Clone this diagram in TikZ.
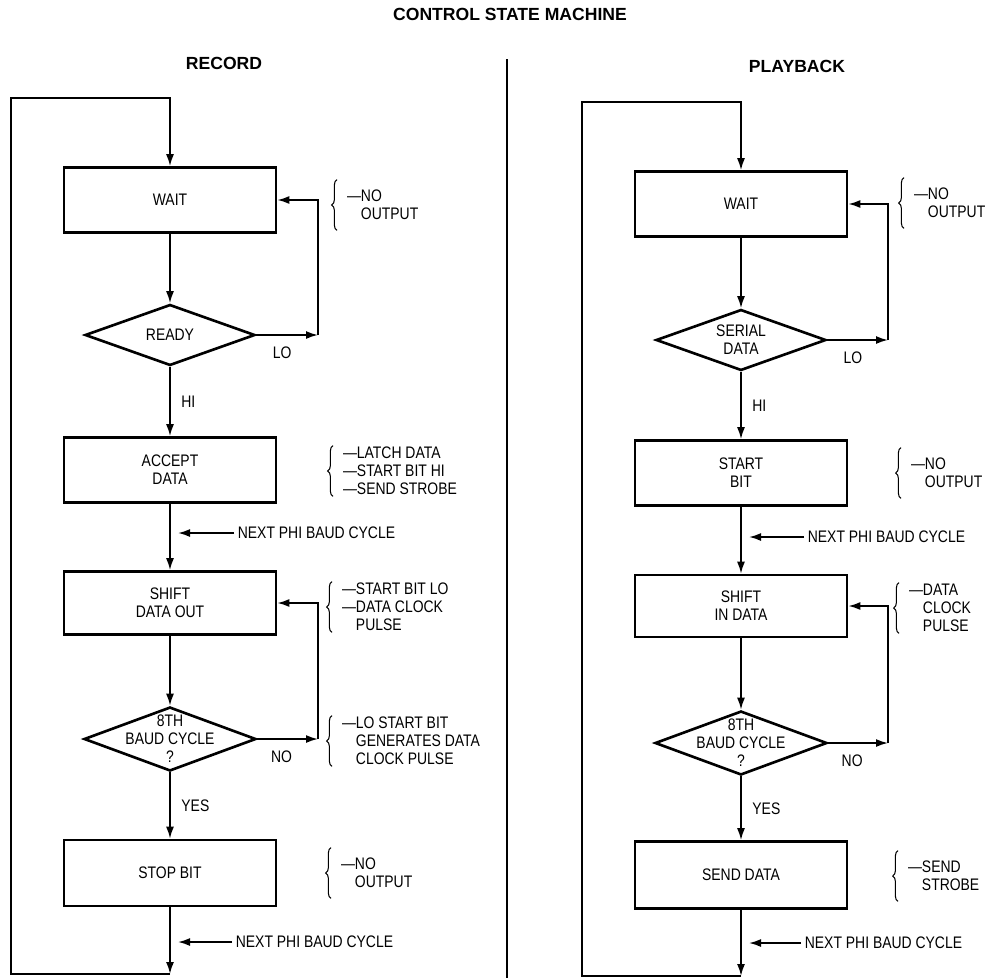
\documentclass[tikz,border=0pt]{standalone}
\usepackage{fontspec}
\setmainfont{Liberation Sans}[FakeStretch=0.835]
\newfontfamily\headfont{Liberation Sans}
\usetikzlibrary{arrows.meta,shapes.geometric,decorations.pathreplacing}

\begin{document}
\begin{tikzpicture}[
  x=0.2mm,y=-0.2mm,
  font=\fontsize{9.5}{10.2}\selectfont,
  head/.style={font=\headfont\bfseries\fontsize{10}{12}\selectfont, inner sep=1pt},
  state/.style={draw, line width=1.5pt, minimum width=4.24cm, minimum height=1.3cm, align=center, inner sep=2pt},
  decision/.style={draw, diamond, line width=1.5pt, minimum width=3.4cm, minimum height=1.22cm, align=center, inner xsep=-0.5cm, inner ysep=-0.3cm},
  flow/.style={line width=1pt, -{Latex[length=2.4mm,width=1.6mm]}},
  wire/.style={line width=1.1pt},
  lbl/.style={inner sep=2pt},
  note/.style={anchor=west, align=left, minimum height=1cm, inner xsep=5.5pt, inner ysep=0pt},
  curly/.style={decorate, decoration={brace, amplitude=3pt}, line width=0.6pt}
]
\useasboundingbox (0,0) rectangle (987,978);

% headings and divider
\node[head] (title) at (510,14) {CONTROL STATE MACHINE};
\node[head] (recHead) at (224,63) {RECORD};
\node[head] (playHead) at (797,66) {PLAYBACK};
\draw[wire] (507,59) -- (507,978);

% ----------------------------- Record -----------------------------
\node[state] (waitL) at (170,200) {WAIT};
\node[decision] (readyL) at (170,335) {READY};
\node[state] (acceptL) at (170,470) {ACCEPT\\DATA};
\node[state, minimum height=1.26cm] (shiftL) at (170,603) {SHIFT\\DATA OUT};
\node[decision, minimum width=3.44cm, minimum height=1.28cm] (baudL) at (170,739) {8TH\\BAUD CYCLE\\?};
\node[state, minimum height=1.32cm] (stopL) at (170,873) {STOP BIT};

\coordinate (loL) at (318,335);
\coordinate (noL) at (318,739);
\coordinate (tipL1) at (178,533);
\coordinate (tipL2) at (178,942);
\coordinate (botL) at (170,974);
\coordinate (topL) at (11,98);

\draw[flow] (waitL) -- (readyL);
\draw[flow] (readyL) -- node[lbl, right=4pt] {HI} (acceptL);
\draw[flow] (readyL) -- node[lbl, below=4pt, pos=0.42] {LO} (loL);
\draw[flow] (loL) |- (waitL);
\draw[flow] (acceptL) -- (shiftL);
\draw[flow] (shiftL) -- (baudL);
\draw[flow] (baudL) -- node[lbl, below=4pt, pos=0.4] {NO} (noL);
\draw[flow] (noL) |- (shiftL);
\draw[flow] (baudL) -- node[lbl, right=4pt] {YES} (stopL);
\draw[flow] (stopL) -- (botL);
\draw[flow] (botL) -| (topL) -| (waitL);

\node[lbl, anchor=west] (nextL1) at (234,533) {NEXT PHI BAUD CYCLE};
\node[lbl, anchor=west] (nextL2) at (232,942) {NEXT PHI BAUD CYCLE};
\draw[flow] (nextL1) -- (tipL1);
\draw[flow] (nextL2) -- (tipL2);

\node[note] (noteL1) at (337,205) {—NO\\\phantom{—}OUTPUT};
\node[note] (noteL2) at (333,471) {—LATCH DATA\\—START BIT HI\\—SEND STROBE};
\node[note] (noteL3) at (332,607) {—START BIT LO\\—DATA CLOCK\\\phantom{—}PULSE};
\node[note] (noteL4) at (332,741) {—LO START BIT\\\phantom{—}GENERATES DATA\\\phantom{—}CLOCK PULSE};
\node[note] (noteL5) at (331,873) {—NO\\\phantom{—}OUTPUT};

% ----------------------------- Playback -----------------------------
\node[state] (waitR) at (741,204) {WAIT};
\node[decision] (serialR) at (741,340) {SERIAL\\DATA};
\node[state] (startR) at (741,473) {START\\BIT};
\node[state, minimum height=1.24cm] (shiftR) at (741,606) {SHIFT\\IN DATA};
\node[decision, minimum width=3.44cm, minimum height=1.28cm] (baudR) at (741,743) {8TH\\BAUD CYCLE\\?};
\node[state, minimum height=1.34cm] (sendR) at (741,875) {SEND DATA};

\coordinate (loR) at (888,340);
\coordinate (noR) at (888,743);
\coordinate (tipR1) at (749,537);
\coordinate (tipR2) at (749,943);
\coordinate (botR) at (741,976);
\coordinate (topR) at (582,102);

\draw[flow] (waitR) -- (serialR);
\draw[flow] (serialR) -- node[lbl, right=4pt] {HI} (startR);
\draw[flow] (serialR) -- node[lbl, below=4pt, pos=0.42] {LO} (loR);
\draw[flow] (loR) |- (waitR);
\draw[flow] (startR) -- (shiftR);
\draw[flow] (shiftR) -- (baudR);
\draw[flow] (baudR) -- node[lbl, below=4pt, pos=0.4] {NO} (noR);
\draw[flow] (noR) |- (shiftR);
\draw[flow] (baudR) -- node[lbl, right=4pt] {YES} (sendR);
\draw[flow] (sendR) -- (botR);
\draw[flow] (botR) -| (topR) -| (waitR);

\node[lbl, anchor=west] (nextR1) at (804,537) {NEXT PHI BAUD CYCLE};
\node[lbl, anchor=west] (nextR2) at (801,943) {NEXT PHI BAUD CYCLE};
\draw[flow] (nextR1) -- (tipR1);
\draw[flow] (nextR2) -- (tipR2);

\node[note] (noteR1) at (904,203) {—NO\\\phantom{—}OUTPUT};
\node[note] (noteR2) at (901,473) {—NO\\\phantom{—}OUTPUT};
\node[note] (noteR3) at (899,608) {—DATA\\\phantom{—}CLOCK\\\phantom{—}PULSE};
\node[note] (noteR4) at (898,876) {—SEND\\\phantom{—}STROBE};

% braces in front of the output notes
\foreach \n in {noteL1,noteL2,noteL3,noteL4,noteL5,noteR1,noteR2,noteR3,noteR4}
  \draw[curly] (\n.south west) -- (\n.north west);

\end{tikzpicture}
\end{document}
